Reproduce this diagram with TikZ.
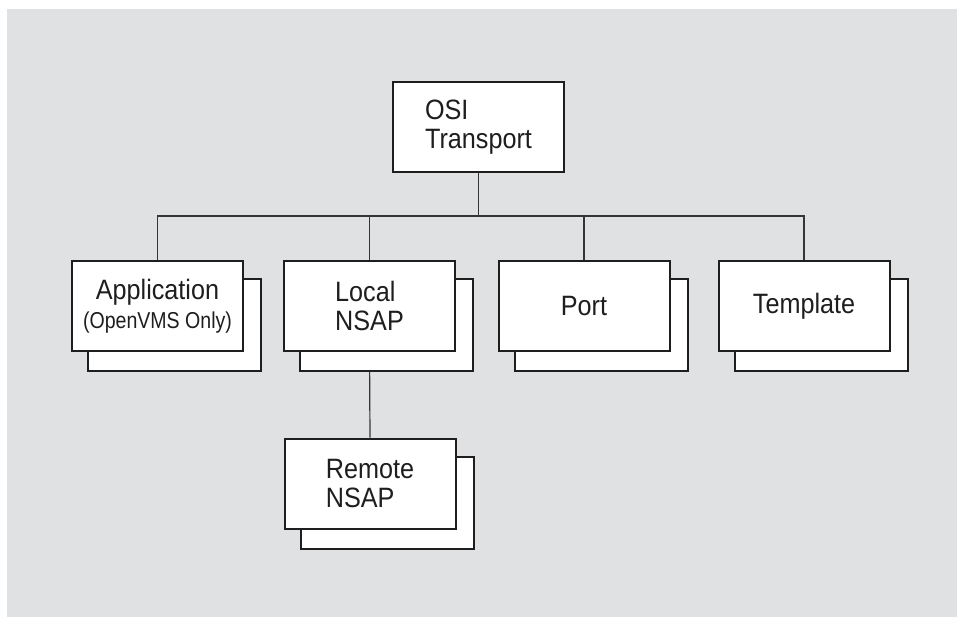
\documentclass[tikz,border=0pt]{standalone}
\usepackage{fontspec}
\setmainfont{Liberation Sans}[FakeStretch=0.9]
\newfontfamily\smallfam{Liberation Sans}[FakeStretch=0.85]
\usetikzlibrary{calc}
\pgfdeclarelayer{back}
\pgfdeclarelayer{bg}
\pgfdeclarelayer{mid}
\pgfsetlayers{back,bg,mid,main}
\definecolor{panel}{RGB}{224,225,227}
\definecolor{ink}{RGB}{30,30,30}
\tikzset{
  frontbox/.style={draw=ink, line width=2pt, fill=white, minimum width=171pt, minimum height=90pt, inner sep=0pt, font=\fontsize{28}{29}\selectfont, text=ink},
  backbox/.style={draw=ink, line width=2pt, fill=white},
  conn/.style={draw=ink!90, line width=1.2pt}
}
\begin{document}
\begin{tikzpicture}[x=1pt,y=-1pt]
\useasboundingbox (0,0) rectangle (957,616);
\begin{pgfonlayer}{back}
\fill[white] (0,0) rectangle (957,616);
\fill[panel] (7,9) rectangle (958,617);
\end{pgfonlayer}

\node[frontbox, align=left] (osi) at (478.5,127) {OSI\\Transport};
\node[frontbox, align=center] (app) at (157.5,306) {Application\\{\smallfam\fontsize{23}{29}\selectfont (OpenVMS Only)}};
\node[frontbox, align=left] (local) at (369.5,306) {Local\\NSAP};
\node[frontbox] (port) at (584,306) {Port};
\node[frontbox] (tmpl) at (804,306) {Template};
\node[frontbox, align=left] (remote) at (370,483.5) {Remote\\NSAP};

\begin{pgfonlayer}{mid}
\foreach \n in {app,local,port,tmpl,remote}{
  \draw[backbox] ([shift={(17,19)}]\n.north west) rectangle ([shift={(17,19)}]\n.south east);
}
\end{pgfonlayer}

\begin{pgfonlayer}{bg}
\coordinate (hub) at ($(osi.south)+(0,43)$);
\draw[conn] (osi.south) -- (hub);
\draw[conn] (hub) -| (app.north);
\draw[conn] (hub) -| (local.north);
\draw[conn] (hub) -| (port.north);
\draw[conn] (hub) -| (tmpl.north);
\draw[conn] (local.south) -- (remote.north);
\end{pgfonlayer}
\end{tikzpicture}
\end{document}
